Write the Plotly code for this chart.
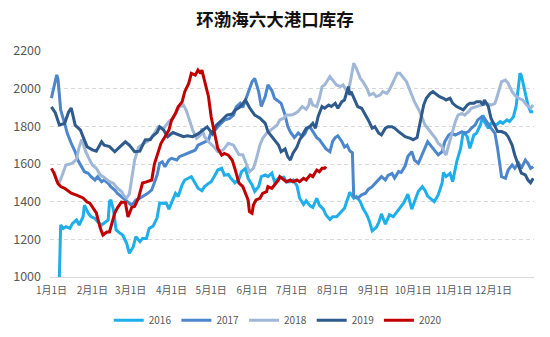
import pandas as pd
import plotly.graph_objects as go

# Port inventory by day of year (day 0 = Jan 1), one series per year
day_2016 = [6, 7, 9, 11, 14, 16, 19, 21, 24, 25, 28, 30, 33, 35, 38, 40, 43, 44, 45, 47, 49, 52, 54, 57, 59,
            62, 64, 67, 69, 72, 74, 77, 80, 82, 85, 87, 89, 91, 94, 96, 99, 101, 104, 106, 109, 111, 114,
            116, 119, 121, 124, 126, 129, 131, 134, 136, 139, 142, 144, 147, 149, 152, 154, 157, 159, 162,
            164, 167, 169, 172, 176, 178, 181, 183, 186, 188, 191, 193, 196, 198, 201, 203, 206, 208, 211,
            213, 216, 219, 222, 225, 226, 229, 231, 234, 236, 239, 241, 243, 246, 248, 250, 253, 256, 259,
            262, 264, 267, 270, 273, 275, 278, 281, 283, 285, 288, 290, 293, 296, 297, 299, 302, 304, 307,
            310, 312, 315, 317, 320, 322, 325, 327, 328, 331, 333, 337, 340, 342, 345, 347, 350, 352, 355,
            356, 359, 361, 363, 365]
val_2016 = [1000, 1276, 1258, 1267, 1258, 1285, 1303, 1276, 1320, 1382, 1338, 1320, 1311, 1294, 1276, 1285,
            1303, 1400, 1409, 1356, 1250, 1232, 1223, 1179, 1126, 1161, 1214, 1188, 1205, 1205, 1258, 1270,
            1313, 1393, 1390, 1393, 1360, 1395, 1444, 1427, 1489, 1515, 1528, 1533, 1497, 1471, 1458, 1480,
            1497, 1506, 1542, 1568, 1577, 1540, 1545, 1524, 1500, 1520, 1559, 1577, 1524, 1489, 1455, 1480,
            1533, 1542, 1533, 1551, 1506, 1524, 1530, 1505, 1506, 1515, 1485, 1420, 1385, 1405, 1378, 1370,
            1418, 1382, 1360, 1329, 1305, 1320, 1320, 1345, 1365, 1427, 1450, 1418, 1427, 1400, 1365, 1329,
            1294, 1245, 1262, 1290, 1335, 1280, 1330, 1320, 1350, 1370, 1395, 1440, 1360, 1400, 1455, 1480,
            1460, 1430, 1410, 1400, 1436, 1500, 1555, 1533, 1550, 1506, 1612, 1683, 1772, 1745, 1683, 1754,
            1763, 1807, 1860, 1825, 1790, 1816, 1807, 1825, 1816, 1834, 1825, 1851, 1905, 2082, 2070, 1984,
            1913, 1878, 1878]

day_2017 = [0, 2, 4, 5, 6, 7, 10, 12, 15, 18, 20, 23, 25, 28, 30, 33, 35, 38, 40, 43, 45, 48, 50, 53, 56,
            58, 60, 62, 64, 67, 71, 73, 76, 78, 80, 82, 84, 86, 89, 91, 95, 97, 100, 104, 106, 109, 111, 114,
            116, 119, 121, 124, 126, 129, 131, 135, 138, 140, 143, 145, 149, 152, 154, 157, 159, 162, 164,
            167, 169, 172, 174, 177, 179, 181, 184, 187, 190, 192, 194, 196, 198, 201, 203, 206, 208, 211,
            213, 215, 217, 220, 222, 224, 226, 228, 229, 232, 235, 238, 240, 243, 245, 248, 250, 253, 255,
            258, 260, 263, 265, 268, 270, 273, 275, 278, 280, 283, 285, 288, 291, 293, 296, 298, 301, 303,
            306, 308, 311, 313, 316, 318, 321, 323, 326, 328, 331, 333, 336, 338, 341, 344, 346, 349, 351,
            354, 356, 359, 361, 363, 365]
val_2017 = [1950, 2020, 2073, 2050, 1950, 1887, 1816, 1763, 1710, 1665, 1621, 1586, 1559, 1550, 1533, 1515,
            1533, 1506, 1515, 1497, 1480, 1462, 1444, 1427, 1410, 1395, 1385, 1391, 1409, 1418, 1435, 1444,
            1462, 1500, 1540, 1604, 1612, 1585, 1621, 1630, 1621, 1639, 1647, 1656, 1665, 1674, 1700, 1710,
            1718, 1727, 1771, 1780, 1798, 1816, 1833, 1842, 1860, 1904, 1922, 1900, 1975, 2037, 2055, 1984,
            1905, 1960, 2020, 1990, 1949, 1931, 1922, 1860, 1800, 1770, 1740, 1765, 1745, 1760, 1790, 1795,
            1770, 1740, 1730, 1700, 1680, 1665, 1720, 1740, 1750, 1720, 1690, 1700, 1670, 1660, 1430, 1418,
            1436, 1445, 1465, 1480, 1495, 1520, 1533, 1515, 1540, 1550, 1525, 1560, 1555, 1590, 1640, 1666,
            1621, 1604, 1639, 1683, 1719, 1692, 1666, 1648, 1666, 1719, 1754, 1763, 1754, 1763, 1772, 1763,
            1772, 1790, 1807, 1834, 1851, 1843, 1807, 1790, 1763, 1683, 1533, 1524, 1568, 1595, 1577, 1604,
            1577, 1621, 1604, 1577, 1586]

day_2018 = [2, 4, 6, 9, 11, 14, 16, 19, 21, 23, 24, 26, 29, 31, 34, 37, 39, 42, 44, 47, 50, 53, 55, 57, 59,
            61, 63, 66, 70, 73, 77, 81, 85, 89, 92, 95, 97, 100, 102, 105, 107, 110, 113, 114, 116, 119, 123,
            126, 130, 134, 138, 142, 145, 148, 150, 153, 155, 158, 160, 163, 166, 168, 171, 173, 176, 178,
            182, 185, 187, 190, 193, 195, 196, 198, 201, 203, 205, 207, 211, 214, 216, 219, 221, 224, 226,
            229, 231, 234, 236, 239, 241, 244, 246, 249, 251, 254, 256, 259, 262, 264, 267, 269, 272, 275,
            279, 283, 285, 288, 291, 293, 296, 298, 299, 301, 303, 306, 308, 311, 313, 316, 318, 322, 326,
            330, 333, 336, 338, 341, 344, 346, 349, 351, 354, 357, 360, 363, 365]
val_2018 = [1560, 1510, 1500, 1560, 1595, 1600, 1605, 1625, 1690, 1730, 1710, 1665, 1621, 1595, 1577, 1541,
            1533, 1515, 1506, 1497, 1471, 1455, 1430, 1420, 1440, 1530, 1620, 1690, 1710, 1720, 1753, 1798,
            1789, 1825, 1842, 1878, 1904, 1913, 1887, 1825, 1780, 1736, 1754, 1789, 1745, 1718, 1692, 1665,
            1674, 1710, 1700, 1650, 1648, 1595, 1559, 1577, 1621, 1701, 1736, 1763, 1781, 1790, 1807, 1834,
            1843, 1860, 1860, 1870, 1880, 1905, 1890, 1913, 1949, 1913, 1905, 1949, 2011, 2020, 2064, 2037,
            2020, 2011, 2020, 1984, 2020, 2135, 2108, 2055, 2037, 2002, 1966, 1975, 1958, 1966, 1984, 1975,
            1993, 2037, 2082, 2082, 2055, 2037, 1984, 1931, 1878, 1807, 1790, 1763, 1736, 1710, 1692, 1657,
            1648, 1701, 1754, 1825, 1860, 1869, 1860, 1878, 1896, 1905, 1913, 1922, 1913, 1922, 1966, 2037,
            2046, 2028, 1984, 1966, 1949, 1940, 1913, 1896, 1913]

day_2019 = [0, 3, 6, 10, 13, 15, 18, 22, 24, 27, 31, 34, 38, 40, 44, 48, 52, 56, 59, 63, 67, 71, 75, 77, 80,
            82, 85, 88, 92, 96, 100, 103, 107, 111, 115, 118, 122, 125, 129, 133, 137, 139, 143, 147, 150,
            154, 158, 162, 164, 167, 169, 172, 174, 177, 179, 181, 183, 186, 188, 191, 193, 196, 198, 200,
            202, 205, 207, 210, 212, 215, 217, 220, 222, 225, 226, 227, 230, 232, 235, 238, 240, 243, 245,
            248, 250, 253, 255, 258, 260, 263, 265, 268, 272, 274, 277, 279, 282, 284, 287, 289, 292, 294,
            297, 299, 302, 304, 307, 310, 312, 315, 317, 320, 322, 325, 327, 328, 331, 333, 336, 338, 341,
            344, 346, 349, 351, 354, 356, 359, 361, 363, 365]
val_2019 = [1903, 1871, 1807, 1815, 1876, 1897, 1806, 1780, 1744, 1692, 1675, 1668, 1718, 1700, 1692, 1665,
            1692, 1718, 1700, 1665, 1668, 1728, 1730, 1750, 1767, 1797, 1780, 1745, 1767, 1755, 1745, 1750,
            1745, 1760, 1780, 1797, 1760, 1806, 1832, 1860, 1865, 1885, 1903, 1940, 1900, 1860, 1843, 1816,
            1772, 1745, 1727, 1701, 1665, 1680, 1639, 1621, 1657, 1690, 1727, 1763, 1789, 1800, 1816, 1790,
            1851, 1905, 1896, 1913, 1905, 1922, 1896, 1931, 1940, 2011, 1966, 1984, 1931, 1905, 1896, 1860,
            1834, 1790, 1798, 1763, 1754, 1790, 1798, 1798, 1790, 1772, 1763, 1745, 1736, 1728, 1740, 1807,
            1913, 1949, 1975, 1984, 1966, 1958, 1949, 1940, 1949, 1922, 1905, 1896, 1887, 1913, 1922, 1922,
            1931, 1931, 1913, 1940, 1905, 1843, 1798, 1772, 1772, 1763, 1745, 1701, 1648, 1595, 1551, 1542,
            1515, 1500, 1524]

day_2020 = [0, 2, 5, 7, 10, 12, 15, 19, 24, 27, 29, 34, 37, 39, 42, 44, 46, 48, 50, 53, 56, 58, 61, 63, 66,
            69, 72, 76, 78, 81, 83, 86, 89, 91, 94, 96, 99, 101, 104, 106, 109, 111, 113, 114, 116, 119, 121,
            124, 126, 129, 131, 134, 137, 139, 142, 145, 148, 149, 150, 152, 153, 155, 158, 160, 163, 164,
            167, 169, 172, 173, 176, 178, 181, 183, 186, 188, 191, 193, 196, 198, 201, 203, 205, 207, 208]
val_2020 = [1577, 1550, 1495, 1480, 1471, 1460, 1445, 1435, 1420, 1398, 1393, 1340, 1260, 1223, 1239, 1239,
            1287, 1340, 1367, 1398, 1395, 1319, 1372, 1375, 1420, 1499, 1505, 1515, 1600, 1674, 1710, 1745,
            1780, 1833, 1869, 1904, 1930, 1984, 2028, 2081, 2072, 2099, 2081, 2099, 2046, 1957, 1851, 1745,
            1683, 1647, 1656, 1647, 1620, 1575, 1500, 1480, 1427, 1409, 1347, 1338, 1382, 1409, 1418, 1444,
            1453, 1480, 1471, 1489, 1515, 1533, 1515, 1506, 1515, 1506, 1515, 1506, 1524, 1515, 1542, 1533,
            1568, 1559, 1577, 1577, 1586]

years = ["2016", "2017", "2018", "2019", "2020"]
days = [day_2016, day_2017, day_2018, day_2019, day_2020]
values = [val_2016, val_2017, val_2018, val_2019, val_2020]
colors = ["#1EAEEA", "#4C86CC", "#A0B7D7", "#2E5A8C", "#C00000"]

month_ticks = pd.date_range("2020-01-01", periods=12, freq="MS")
month_labels = [f"{m}月1日" for m in range(1, 13)]

base = pd.Timestamp("2020-01-01")
fig = go.Figure()
for name, d, v, c in zip(years, days, values, colors):
    x = base + pd.to_timedelta(d, unit="D")
    fig.add_trace(go.Scatter(x=x, y=v, name=name, mode="lines",
                             line=dict(color=c, width=3)))

font_cjk = "Noto Sans CJK SC, Noto Sans, sans-serif"
fig.update_layout(
    width=550, height=337,
    margin=dict(l=50, r=16, t=51, b=60),
    paper_bgcolor="white", plot_bgcolor="white",
    title=dict(text="<b>环渤海六大港口库存</b>", x=0.5, xref="container", xanchor="center",
               y=0.94, yref="container", yanchor="middle",
               font=dict(family=font_cjk, size=17.5, color="#111111")),
    showlegend=True,
    legend=dict(orientation="h", x=0.505, xref="container", xanchor="center",
                y=0.05, yref="container", yanchor="middle",
                font=dict(family=font_cjk, size=10, color="#595959"),
                bgcolor="rgba(0,0,0,0)"),
    font=dict(family=font_cjk, color="#595959"),
)
fig.update_xaxes(
    range=["2019-12-30 22:00", "2020-12-31 14:00"],
    tickvals=month_ticks, ticktext=month_labels, tickangle=0,
    tickfont=dict(size=10, color="#595959"), ticklabelstandoff=4,
    showgrid=False, showline=True, linecolor="#D9D9D9", linewidth=1,
    ticks="", zeroline=False, automargin=False,
)
fig.update_yaxes(
    range=[1000, 2200], dtick=200, tick0=1000,
    tickfont=dict(size=12.5, color="#595959"),
    showgrid=True, gridcolor="#D9D9D9", gridwidth=1, griddash="4px,3px",
    zeroline=False, showline=False, ticks="", ticklabelstandoff=8,
)

fig.write_html("out.html")
